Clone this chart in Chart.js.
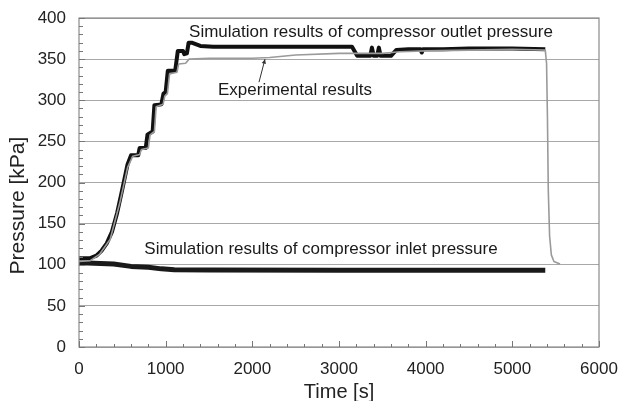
<!DOCTYPE html>
<html>
<head>
<meta charset="utf-8">
<script src="https://cdn.jsdelivr.net/npm/chart.js@4.4.0/dist/chart.umd.min.js"></script>
<style>
  html, body { margin: 0; padding: 0; background: #fff; }
  #wrap { width: 619px; height: 401px; }
</style>
</head>
<body>
<div id="wrap"><canvas id="myChart" width="619" height="401"></canvas></div>
<script>
// values: [time s, pressure kPa]
const simOutlet = [
  [0,108],[130,108],[200,111],[260,117],[320,126],[380,140],[440,163],[500,192],[560,222],[600,233],
  [683,233],[700,242],[770,242],[790,258],[850,262],[870,294],[950,295],[975,308],[1000,310],
  [1025,336],[1110,336],[1140,360],[1200,360],[1215,356],[1245,357],[1265,370],[1300,370],
  [1400,366],[1550,365],[2500,365],[3150,365],[3210,354],[3360,354],[3380,364],[3400,354],
  [3440,354],[3460,364],[3480,354],[3600,354],[3660,361],[3800,362],[3940,362],[3955,358],
  [3970,362],[4200,362],[4500,363],[5000,363],[5380,362]
];
const experimental = [
  [0,104],[130,105],[240,113],[360,131],[470,175],[560,218],[620,232],[700,234],[720,240],
  [800,242],[820,258],[870,262],[890,292],[970,295],[990,305],[1020,308],[1045,332],[1130,334],
  [1150,344],[1230,345],[1270,350],[1500,351],[2000,351],[2200,352],[2500,355],[3000,357],
  [3500,357],[3700,359],[4000,360],[4500,361],[5000,362],[5380,361],[5395,345],[5405,280],
  [5415,190],[5430,135],[5450,112],[5480,104],[5550,101]
];
const simInlet = [
  [0,102],[100,102],[400,101],[600,98],[800,97],[950,95],[1100,94],[1500,93.5],[3000,93.3],[5380,93.3]
];
const yTicks = [0, 50, 100, 150, 200, 250, 300, 350, 400];
const xTicks = [0, 1000, 2000, 3000, 4000, 5000, 6000];

const notes = [
  { text: 'Simulation results of compressor outlet pressure', t: 3369, p: 382 },
  { text: 'Experimental results', t: 2492, p: 312 },
  { text: 'Simulation results of compressor inlet pressure', t: 2792, p: 119 }
];
const arrow = { from: [2077, 322], to: [2146, 350] };
const yTitle = { text: 'Pressure [kPa]', t: -700, p: 172 };

const FONT = '"Liberation Sans", Arial, sans-serif';
const toXY = arr => arr.map(d => ({ x: d[0], y: d[1] }));
const noPad = s => { s.paddingTop = 0; s.paddingBottom = 0; s.paddingLeft = 0; s.paddingRight = 0; };

const extras = {
  id: 'extras',
  afterDraw(chart) {
    const { ctx, chartArea: a, scales: { x, y } } = chart;
    ctx.save();
    // frame
    ctx.strokeStyle = '#8a8a8a';
    ctx.lineWidth = 1.2;
    ctx.strokeRect(a.left, a.top, a.right - a.left, a.bottom - a.top);
    // minor ticks, inside
    ctx.strokeStyle = '#777';
    ctx.lineWidth = 1;
    for (let v = 0; v <= 400; v += 10) {
      const py = Math.round(y.getPixelForValue(v)) + 0.5;
      const len = v % 50 === 0 ? 6 : 4;
      ctx.beginPath(); ctx.moveTo(a.left, py); ctx.lineTo(a.left + len, py); ctx.stroke();
    }
    for (let v = 0; v <= 6000; v += 200) {
      const px = Math.round(x.getPixelForValue(v)) + 0.5;
      const len = v % 1000 === 0 ? 6 : 3;
      ctx.beginPath(); ctx.moveTo(px, a.bottom); ctx.lineTo(px, a.bottom - len); ctx.stroke();
    }
    // notes
    ctx.fillStyle = '#1a1a1a';
    ctx.font = '17px ' + FONT;
    ctx.textAlign = 'center';
    ctx.textBaseline = 'middle';
    notes.forEach(n => ctx.fillText(n.text, x.getPixelForValue(n.t), y.getPixelForValue(n.p)));
    // y axis title
    ctx.save();
    ctx.fillStyle = '#222';
    ctx.font = '21px ' + FONT;
    ctx.translate(x.getPixelForValue(yTitle.t), y.getPixelForValue(yTitle.p));
    ctx.rotate(-Math.PI / 2);
    ctx.fillText(yTitle.text, 0, 0);
    ctx.restore();
    // arrow
    const x1 = x.getPixelForValue(arrow.from[0]), y1 = y.getPixelForValue(arrow.from[1]);
    const x2 = x.getPixelForValue(arrow.to[0]), y2 = y.getPixelForValue(arrow.to[1]);
    ctx.strokeStyle = '#333';
    ctx.lineWidth = 1;
    ctx.beginPath(); ctx.moveTo(x1, y1); ctx.lineTo(x2, y2); ctx.stroke();
    const ang = Math.atan2(y2 - y1, x2 - x1);
    ctx.fillStyle = '#333';
    ctx.beginPath();
    ctx.moveTo(x2, y2);
    ctx.lineTo(x2 - 5 * Math.cos(ang - 0.45), y2 - 5 * Math.sin(ang - 0.45));
    ctx.lineTo(x2 - 5 * Math.cos(ang + 0.45), y2 - 5 * Math.sin(ang + 0.45));
    ctx.closePath(); ctx.fill();
    ctx.restore();
  }
};

const ctx = document.getElementById('myChart').getContext('2d');
const myChart = new Chart(ctx, {
  type: 'line',
  data: {
    datasets: [
      { label: 'Experimental results', data: toXY(experimental), borderColor: '#9a9a9a', borderWidth: 1.6 },
      { label: 'Simulation outlet', data: toXY(simOutlet), borderColor: '#111', borderWidth: 4 },
      { label: 'Simulation inlet', data: toXY(simInlet), borderColor: '#1a1a1a', borderWidth: 5 }
    ]
  },
  plugins: [extras],
  options: {
    responsive: false,
    animation: false,
    elements: { point: { radius: 0 }, line: { tension: 0, borderJoinStyle: 'round', borderCapStyle: 'butt' } },
    layout: { padding: { top: 18, right: 20, left: 0, bottom: 0 } },
    plugins: { legend: { display: false }, tooltip: { enabled: false } },
    scales: {
      x: {
        type: 'linear', min: 0, max: 6000,
        afterBuildTicks: s => { s.ticks = xTicks.map(v => ({ value: v })); },
        afterFit: s => { s.height = 54; noPad(s); },
        grid: { display: false, drawTicks: false },
        border: { display: false },
        ticks: { color: '#222', font: { family: FONT, size: 17 }, padding: 12, maxRotation: 0, callback: v => String(v) },
        title: { display: true, text: 'Time [s]', color: '#222', font: { family: FONT, size: 20 }, padding: { top: 0, bottom: -3 } }
      },
      y: {
        min: 0, max: 400,
        afterBuildTicks: s => { s.ticks = yTicks.map(v => ({ value: v })); },
        afterFit: s => { s.width = 79; noPad(s); },
        grid: { color: '#a8a8a8', lineWidth: 1, drawTicks: false },
        border: { display: false },
        ticks: { color: '#222', font: { family: FONT, size: 17 }, padding: 13, callback: v => String(v) }
      }
    }
  }
});
</script>
</body>
</html>
